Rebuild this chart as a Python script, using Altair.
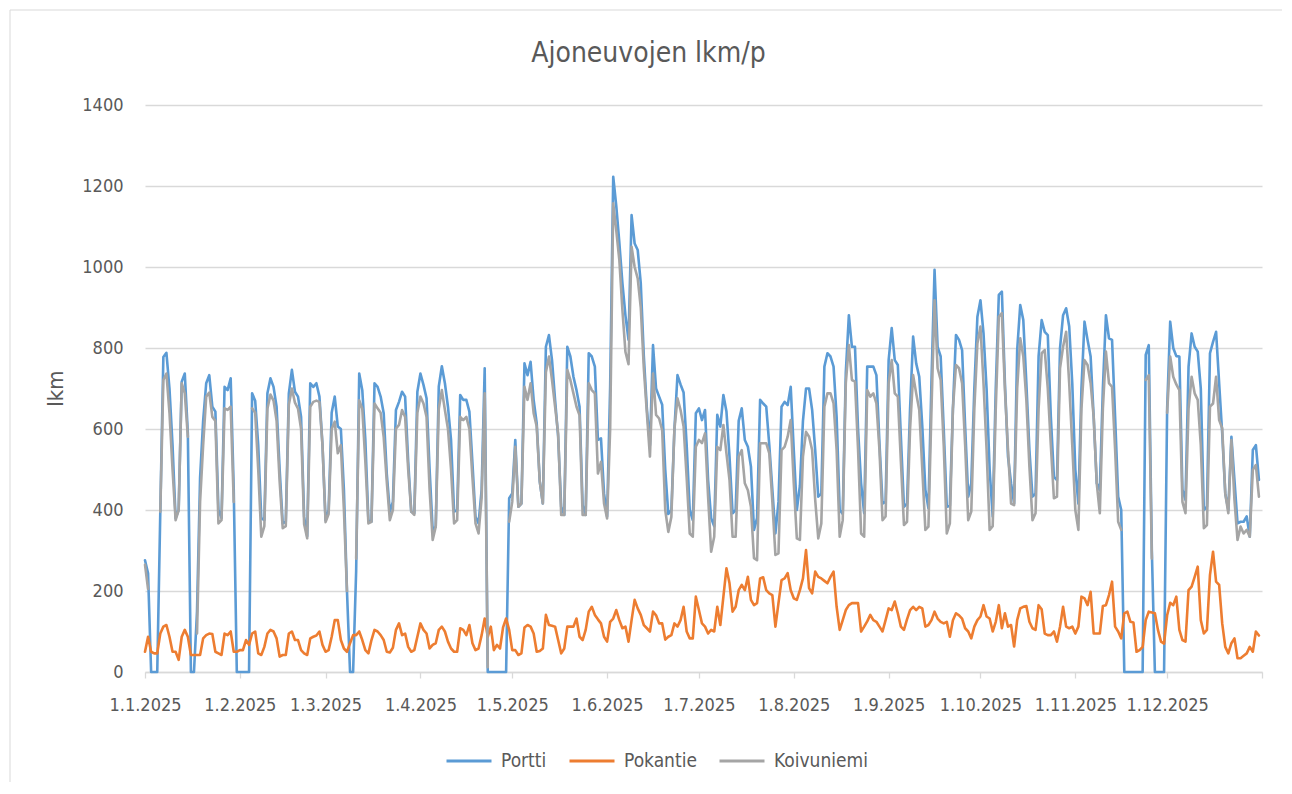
import altair as alt
import pandas as pd

FONT = "Liberation Sans Narrow, DejaVu Sans Condensed, sans-serif"
TXT = "#595959"
SERIES = ["Portti", "Pokantie", "Koivuniemi"]
COLORS = ["#5B9BD5", "#ED7D31", "#A5A5A5"]
TITLE = "Ajoneuvojen lkm/p"
Y_TITLE = "lkm"
Y_TICKS = [0, 200, 400, 600, 800, 1000, 1200, 1400]

N = None

# ---- Portti (daily), by month ----
portti_jan = [276, 244, 0, 0, 0, 396, 778, 788, 700, 560, 380, 400, 717, 737, 590, 0, 0, 150, 480, 620,
              713, 733, 655, 643, 400, 380, 704, 696, 725, 450, 0]
portti_feb = [0, 0, 0, 0, 688, 670, 560, 380, 375, 688, 725, 704, 655, 500, 367, 371, 688, 746, 692, 680,
              630, 383, 335, 713, 704, 713, 680, 560]
portti_mar = [375, 400, 640, 680, 606, 600, 450, 200, 0, 0, 250, 737, 696, 573, 375, 371, 713, 704, 680, 639,
              490, 396, 420, 647, 667, 692, 680, 520, 396, 392, 692]
portti_apr = [737, 709, 676, 500, 351, 359, 705, 755, 713, 655, 573, 396, 400, 684, 672, 672, 643, 515, 383, 367,
              450, 750, 0, 0, 0, 0, 0, 0, 0, 429]
portti_may = [441, 573, 408, 416, 762, 733, 766, 672, 614, 470, 416, 803, 832, 770, 672, 581, 408, 388, 803, 779,
              729, 696, 655, 412, 388, 787, 779, 754, 573, 577, 441]
portti_jun = [384, 705, 1223, 1150, 1060, 960, 880, 820, 1128, 1058, 1042, 960, 780, 650, 560, 807, 700, 680, 660, 500,
              390, 400, 600, 733, 710, 690, 560, 400, 375, 639]
portti_jul = [651, 622, 647, 474, 380, 360, 635, 606, 684, 643, 532, 392, 400, 620, 651, 573, 556, 507, 351, 380,
              672, 663, 655, 560, 450, 342, 420, 655, 667, 659, 704]
portti_aug = [548, 400, 460, 620, 700, 700, 647, 548, 433, 440, 754, 787, 779, 754, 630, 400, 390, 740, 881, 803,
              803, 600, 466, 392, 754, 754, 754, 733, 565, 416, 420]
portti_sep = [770, 849, 770, 758, 581, 408, 416, 650, 828, 762, 729, 606, 450, 404, 720, 993, 803, 779, 600, 408,
              410, 650, 832, 820, 795, 606, 433, 466, 700, 877]
portti_oct = [918, 836, 700, 500, 384, 700, 931, 939, 713, 532, 466, 416, 795, 906, 869, 713, 548, 433, 440, 780,
              869, 840, 832, 630, 482, 474, 800, 881, 898, 853, 713]
portti_nov = [500, 416, 700, 865, 820, 779, 630, 466, 449, 700, 881, 824, 820, 630, 433, 400, 0, 0, 0, 0,
              0, 0, 0, 783, 807, 300, 0, 0, 0, 0]
portti_dec = [650, 865, 800, 780, 779, 450, 425, 754, 836, 803, 791, 700, 400, 408, 787, 815, 840, 713, 589, 441,
              400, 581, 474, 367, 371, 371, 384, 334, 548, 560, 474]

# ---- Pokantie (daily), by month ----
pokantie_jan = [50, 87, 50, 46, 46, 95, 112, 116, 87, 50, 50, 30, 87, 104, 87, 42, 42, 42, 42, 83,
                91, 95, 94, 50, 46, 42, 95, 91, 100, 50, 50]
pokantie_feb = [54, 54, 79, 67, 95, 100, 46, 42, 62, 95, 104, 100, 83, 38, 42, 42, 95, 100, 79, 79,
                54, 46, 42, 83, 87, 90, 100, 67]
pokantie_mar = [50, 54, 87, 128, 128, 79, 58, 50, 71, 91, 91, 100, 79, 54, 46, 79, 104, 100, 91, 79,
                50, 48, 60, 104, 120, 91, 95, 62, 50, 54, 87]
pokantie_apr = [120, 104, 95, 58, 67, 71, 104, 112, 100, 75, 58, 50, 50, 108, 104, 91, 116, 71, 54, 58,
                91, 132, 87, 112, 54, 67, 58, 110, 132, 104]
pokantie_may = [54, 54, 42, 46, 110, 116, 112, 95, 50, 52, 58, 141, 116, 114, 112, 79, 46, 58, 112, 112,
                112, 132, 87, 79, 104, 149, 161, 141, 130, 120, 87]
pokantie_jun = [75, 124, 132, 153, 128, 108, 112, 75, 128, 178, 157, 141, 116, 108, 100, 149, 140, 120, 120, 80,
                87, 91, 120, 112, 128, 161, 100, 83, 83, 186]
pokantie_jul = [153, 120, 112, 95, 104, 100, 161, 116, 186, 256, 219, 149, 161, 202, 215, 202, 235, 178, 165, 170,
                231, 234, 202, 194, 190, 112, 170, 227, 231, 244, 202]
pokantie_aug = [182, 178, 202, 231, 301, 207, 194, 248, 235, 231, 225, 219, 235, 248, 161, 104, 128, 153, 165, 170,
                170, 170, 100, 112, 125, 141, 128, 124, 112, 100, 128]
pokantie_sep = [157, 153, 174, 145, 112, 104, 130, 153, 161, 153, 161, 157, 112, 116, 128, 149, 132, 124, 120, 124,
                87, 128, 145, 140, 132, 108, 100, 83, 112, 128]
pokantie_oct = [137, 165, 137, 132, 100, 124, 165, 108, 145, 112, 116, 63, 128, 157, 161, 163, 124, 108, 104, 165,
                155, 95, 91, 91, 100, 75, 112, 161, 112, 108, 112]
pokantie_nov = [95, 112, 186, 182, 165, 198, 95, 95, 95, 163, 165, 190, 223, 112, 100, 83, 145, 149, 124, 122,
                50, 54, 62, 128, 149, 147, 145, 104, 75, 70]
pokantie_dec = [140, 171, 165, 186, 104, 79, 75, 202, 211, 235, 260, 128, 95, 104, 240, 297, 223, 215, 120, 62,
                46, 71, 83, 34, 34, 40, 46, 62, 50, 100, 90]

# ---- Koivuniemi (daily), by month; None = no reading ----
koivuniemi_jan = [265, 205, N, N, N, 396, 721, 737, 640, 500, 375, 400, 713, 688, 581, N, N, 95, 420, 560,
                  680, 690, 630, 620, 367, 375, 651, 647, 655, 420, N]
koivuniemi_feb = [N, N, N, N, 651, 640, 500, 334, 360, 650, 685, 670, 620, 470, 355, 360, 660, 700, 665, 650,
                  600, 365, 330, 655, 667, 670, 667, 560]
koivuniemi_mar = [370, 390, 600, 618, 540, 560, 400, 200, N, N, 280, 671, 650, 520, 367, 371, 663, 651, 640, 580,
                  470, 375, 400, 601, 610, 647, 630, 500, 396, 388, 640]
koivuniemi_apr = [680, 663, 630, 450, 326, 359, 650, 696, 647, 600, 500, 367, 375, 630, 622, 630, 600, 480, 367, 342,
                  430, 688, 12, N, N, N, N, N, N, 371]
koivuniemi_may = [420, 556, 408, 416, 704, 672, 713, 639, 606, 470, 416, 740, 779, 721, 655, 589, 388, 388, 746, 721,
                  688, 655, 634, 388, 388, 713, 696, 688, 490, 519, 416]
koivuniemi_jun = [379, 600, 1157, 1090, 1017, 894, 790, 760, 1050, 1000, 972, 900, 750, 639, 532, 737, 635, 626, 597, 400,
                  346, 383, 600, 676, 647, 606, 480, 342, 334, 556]
koivuniemi_jul = [573, 565, 589, 433, 297, 334, 556, 548, 610, 540, 474, 334, 334, 532, 548, 466, 449, 408, 281, 276,
                  565, 565, 565, 540, 420, 289, 293, 548, 556, 581, 622]
koivuniemi_aug = [466, 330, 326, 532, 593, 581, 548, 425, 330, 367, 655, 688, 688, 663, 548, 334, 375, 713, 807, 721,
                  717, 550, 342, 334, 696, 680, 688, 663, 548, 375, 384]
koivuniemi_sep = [713, 770, 688, 680, 520, 363, 371, 600, 733, 688, 647, 500, 351, 359, 650, 918, 750, 721, 560, 342,
                  367, 650, 758, 750, 713, 560, 375, 396, 650, 811]
koivuniemi_oct = [853, 713, 550, 351, 360, 650, 877, 886, 696, 550, 416, 412, 700, 824, 779, 672, 507, 375, 392, 650,
                  787, 795, 700, 560, 429, 433, 750, 803, 840, 713, 560]
koivuniemi_nov = [400, 351, 650, 770, 758, 713, 630, 466, 392, 650, 791, 713, 704, 550, 371, 351, N, N, N, N,
                  N, N, N, 721, 733, 280, N, N, N, N]
koivuniemi_dec = [640, 779, 729, 710, 696, 420, 392, 650, 729, 688, 672, 560, 355, 363, 655, 663, 729, 622, 602, 440,
                  392, 573, 425, 326, 359, 342, 351, 334, 499, 511, 433]

MONTHS = ["jan", "feb", "mar", "apr", "may", "jun", "jul", "aug", "sep", "oct", "nov", "dec"]
g = globals()
portti = sum((g["portti_" + m] for m in MONTHS), [])
pokantie = sum((g["pokantie_" + m] for m in MONTHS), [])
koivuniemi = sum((g["koivuniemi_" + m] for m in MONTHS), [])

dates = pd.date_range("2025-01-01", periods=365, freq="D")

rows = []
for name, vals in zip(SERIES, [portti, pokantie, koivuniemi]):
    seg = 0
    for d, v in zip(dates, vals):
        if v is None:
            seg += 1
            continue
        rows.append({"date": d.strftime("%Y-%m-%dT00:00:00"), "series": name, "value": v, "seg": seg})
df = pd.DataFrame(rows)

color_scale = alt.Scale(domain=SERIES, range=COLORS)
month_ticks = [alt.DateTime(year=2025, month=m, date=1) for m in range(1, 13)] + [
    alt.DateTime(year=2026, month=1, date=1)]

x_enc = alt.X(
    "date:T",
    scale=alt.Scale(domain=[alt.DateTime(year=2025, month=1, date=1), alt.DateTime(year=2026, month=1, date=1)]),
    axis=alt.Axis(
        values=month_ticks, grid=False, title=None,
        labelExpr="year(datum.value) > 2025 ? '' : timeFormat(datum.value, '%-d.%-m.%Y')",
        labelFont=FONT, labelFontSize=18, labelColor=TXT, labelAngle=0, labelPadding=18,
        labelOverlap=False, labelFlush=False,
        domainColor="#D9D9D9", domainWidth=1.5, tickColor="#D9D9D9", tickWidth=1.3, tickSize=6,
    ),
)
y_enc = alt.Y(
    "value:Q",
    scale=alt.Scale(domain=[0, 1400], nice=False),
    axis=alt.Axis(
        values=Y_TICKS, format="d", grid=True, gridColor="#D9D9D9", gridWidth=1.3, domain=False, ticks=False,
        labelFont=FONT, labelFontSize=18, labelColor=TXT, labelPadding=22,
        title=Y_TITLE, titleFont=FONT, titleFontSize=22, titleColor=TXT, titleFontWeight="normal",
        titleX=-90, titleY=283, titleAngle=-90, titleAlign="center", titleBaseline="middle",
    ),
)
legend = alt.Legend(
    title=None, orient="none", legendX=300, legendY=632, direction="horizontal",
    symbolType="stroke", symbolSize=2025, symbolStrokeWidth=3,
    labelFont=FONT, labelFontSize=19, labelColor=TXT, labelOffset=8, columnPadding=16,
)


def series_layer(name):
    return (
        alt.Chart(df)
        .transform_filter(alt.datum.series == name)
        .mark_line(strokeWidth=2.6, strokeJoin="round", strokeCap="round")
        .encode(
            x=x_enc,
            y=y_enc,
            color=alt.Color("series:N", scale=color_scale, legend=legend),
            detail="seg:N",
        )
    )


border = (
    alt.Chart(alt.Data(values=[{"k": 1}]))
    .mark_rect(fill="white", fillOpacity=0, stroke="#D9D9D9", strokeWidth=1)
    .encode(x=alt.value(-135), x2=alt.value(1140), y=alt.value(-95), y2=alt.value(682))
)

chart = (
    alt.layer(border, *[series_layer(s) for s in SERIES])
    .properties(
        width=1117, height=567,
        title=alt.Title(TITLE, font=FONT, fontSize=28, fontWeight="normal", color=TXT,
                        anchor="middle", baseline="alphabetic", offset=0, dx=-55, dy=80),
        padding={"left": 137, "top": 97, "right": 20, "bottom": 110},
        autosize=alt.AutoSizeParams(type="none"),
        background="white",
    )
    .configure_view(stroke=None)
)

chart.save("out.html", embed_options={"renderer": "svg", "actions": False})
